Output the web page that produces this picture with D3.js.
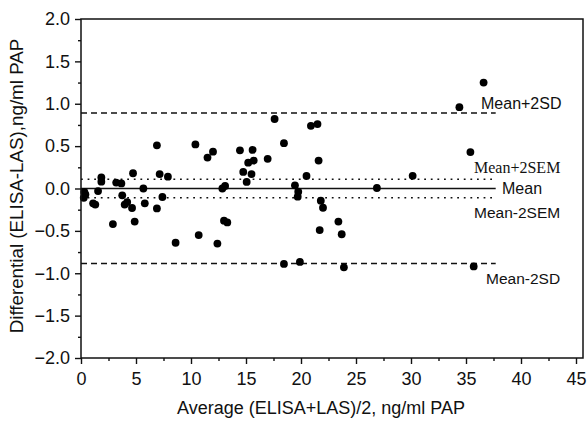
<!DOCTYPE html>
<html>
<head>
<meta charset="utf-8">
<script src="https://cdn.jsdelivr.net/npm/d3@7"></script>
<style>
  html, body { margin: 0; padding: 0; background: #fff; }
  svg { display: block; }
</style>
</head>
<body>
<svg id="chart" width="587" height="427"></svg>
<script>
// Bland–Altman style difference plot: ELISA vs LAS
const averages = [0.3, 0.25, 0.4, 1.1, 1.3, 1.55, 1.85, 1.85, 2.9, 3.2, 3.67, 3.75, 3.97, 4.2, 4.64, 4.73, 4.88,
  5.67, 5.8, 6.9, 6.9, 7.15, 7.4, 7.9, 8.6, 10.4, 10.7, 11.5, 12.0, 12.4, 12.85, 13.0, 13.1, 13.3, 14.45, 14.75,
  15.06, 15.2, 15.5, 15.6, 15.7, 16.97, 17.6, 18.45, 18.45, 19.45, 19.7, 19.75, 19.9, 20.5, 20.9, 21.5, 21.6,
  21.7, 21.8, 22.0, 23.4, 23.7, 23.9, 26.9, 30.15, 34.4, 35.4, 35.7, 36.6];
const differences = [-0.04, -0.11, -0.07, -0.175, -0.19, -0.03, 0.13, 0.08, -0.42, 0.07, 0.06, -0.08, -0.19, -0.16, -0.23, 0.18, -0.39,
  0.0, -0.175, 0.51, -0.235, 0.17, -0.1, 0.14, -0.64, 0.52, -0.55, 0.365, 0.435, -0.65, 0.0, -0.38, 0.03, -0.4, 0.45, 0.195,
  0.077, 0.305, 0.17, 0.455, 0.33, 0.35, 0.82, 0.535, -0.89, 0.038, -0.097, -0.038, -0.866, 0.148, 0.74, 0.76, 0.33,
  -0.49, -0.144, -0.227, -0.39, -0.54, -0.93, 0.006, 0.15, 0.96, 0.43, -0.92, 1.25];

// Reference lines: mean difference, ±2 SEM, ±2 SD
const refNames = ["Mean+2SD", "Mean+2SEM", "Mean", "Mean-2SEM", "Mean-2SD"];
const refValues = [0.89, 0.11, 0.0, -0.11, -0.885];
const refEnd = 37.7;

const xTicks = [0, 5, 10, 15, 20, 25, 30, 35, 40, 45];
const xMinor = [2.5, 7.5, 12.5, 17.5, 22.5, 27.5, 32.5, 37.5, 42.5];
const yTicks = [-2.0, -1.5, -1.0, -0.5, 0.0, 0.5, 1.0, 1.5, 2.0];
const yMinor = [-1.75, -1.25, -0.75, -0.25, 0.25, 0.75, 1.25, 1.75];

const svg = d3.select("#chart");
const plotLeft = 81, plotRight = 583, plotTop = 19, plotBottom = 358;

const x = d3.scaleLinear().domain([0, (plotRight - plotLeft) / 11]).range([plotLeft, plotRight]);
const y = d3.scaleLinear().domain([-2, 2]).range([plotBottom, plotTop]);

const sans = "'Liberation Sans', Arial, sans-serif";
const serif = "'Liberation Serif', 'Times New Roman', serif";

// reference lines
const lineStyles = {
  "Mean+2SD": { dash: "6,4", w: 1.4 },
  "Mean-2SD": { dash: "6,4", w: 1.4 },
  "Mean+2SEM": { dash: "1.8,4.8", w: 1.6 },
  "Mean-2SEM": { dash: "1.8,4.8", w: 1.6 },
  "Mean": { dash: null, w: 1.5 }
};
refNames.forEach((name, i) => {
  const st = lineStyles[name];
  svg.append("line")
    .attr("x1", x(0)).attr("x2", x(refEnd))
    .attr("y1", y(refValues[i])).attr("y2", y(refValues[i]))
    .attr("stroke", "#111").attr("stroke-width", st.w)
    .attr("stroke-dasharray", st.dash);
});

// reference line labels
const labelSpec = [
  { name: "Mean+2SD", dx: 481, dy: -10, font: sans, size: 16 },
  { name: "Mean+2SEM", dx: 474, dy: -12, font: serif, size: 16 },
  { name: "Mean", dx: 502, dy: 0, font: sans, size: 16 },
  { name: "Mean-2SEM", dx: 474, dy: 15, font: sans, size: 15.5 },
  { name: "Mean-2SD", dx: 486, dy: 15, font: sans, size: 15.5 }
];
labelSpec.forEach(s => {
  const i = refNames.indexOf(s.name);
  svg.append("text")
    .attr("x", s.dx).attr("y", y(refValues[i]) + s.dy)
    .attr("dominant-baseline", "central")
    .attr("font-family", s.font).attr("font-size", s.size)
    .attr("fill", "#111")
    .text(s.name);
});

// data points
svg.append("g").selectAll("circle")
  .data(averages.map((a, i) => [a, differences[i]]))
  .join("circle")
  .attr("cx", d => x(d[0])).attr("cy", d => y(d[1]))
  .attr("r", 3.9).attr("fill", "#000");

// frame
svg.append("rect")
  .attr("x", plotLeft).attr("y", plotTop)
  .attr("width", plotRight - plotLeft).attr("height", plotBottom - plotTop)
  .attr("fill", "none").attr("stroke", "#111").attr("stroke-width", 1.5);

// axes
svg.append("g").attr("transform", `translate(${plotLeft},0)`)
  .call(d3.axisLeft(y).tickValues(yTicks).tickFormat(d3.format(".1f")).tickSize(6).tickPadding(5));
svg.append("g").attr("transform", `translate(${plotLeft},0)`)
  .call(d3.axisLeft(y).tickValues(yMinor).tickFormat("").tickSize(3));
svg.append("g").attr("transform", `translate(0,${plotBottom})`)
  .call(d3.axisBottom(x).tickValues(xTicks).tickFormat(d3.format("d")).tickSize(6).tickPadding(8));
svg.append("g").attr("transform", `translate(0,${plotBottom})`)
  .call(d3.axisBottom(x).tickValues(xMinor).tickFormat("").tickSize(3));

svg.selectAll(".domain").remove();
svg.selectAll(".tick line").attr("stroke", "#111").attr("stroke-width", 1.4);
svg.selectAll(".tick text").attr("font-family", sans).attr("font-size", 18).attr("fill", "#111");

// axis titles
svg.append("text")
  .attr("x", (plotLeft + plotRight) / 2 - 11).attr("y", 408)
  .attr("text-anchor", "middle").attr("dominant-baseline", "central")
  .attr("font-family", sans).attr("font-size", 18).attr("fill", "#111")
  .text("Average (ELISA+LAS)/2, ng/ml PAP");
svg.append("text")
  .attr("transform", `translate(16,186) rotate(-90)`)
  .attr("text-anchor", "middle").attr("dominant-baseline", "central")
  .attr("font-family", sans).attr("font-size", 18.8).attr("fill", "#111")
  .text("Differential (ELISA-LAS),ng/ml PAP");
</script>
</body>
</html>
